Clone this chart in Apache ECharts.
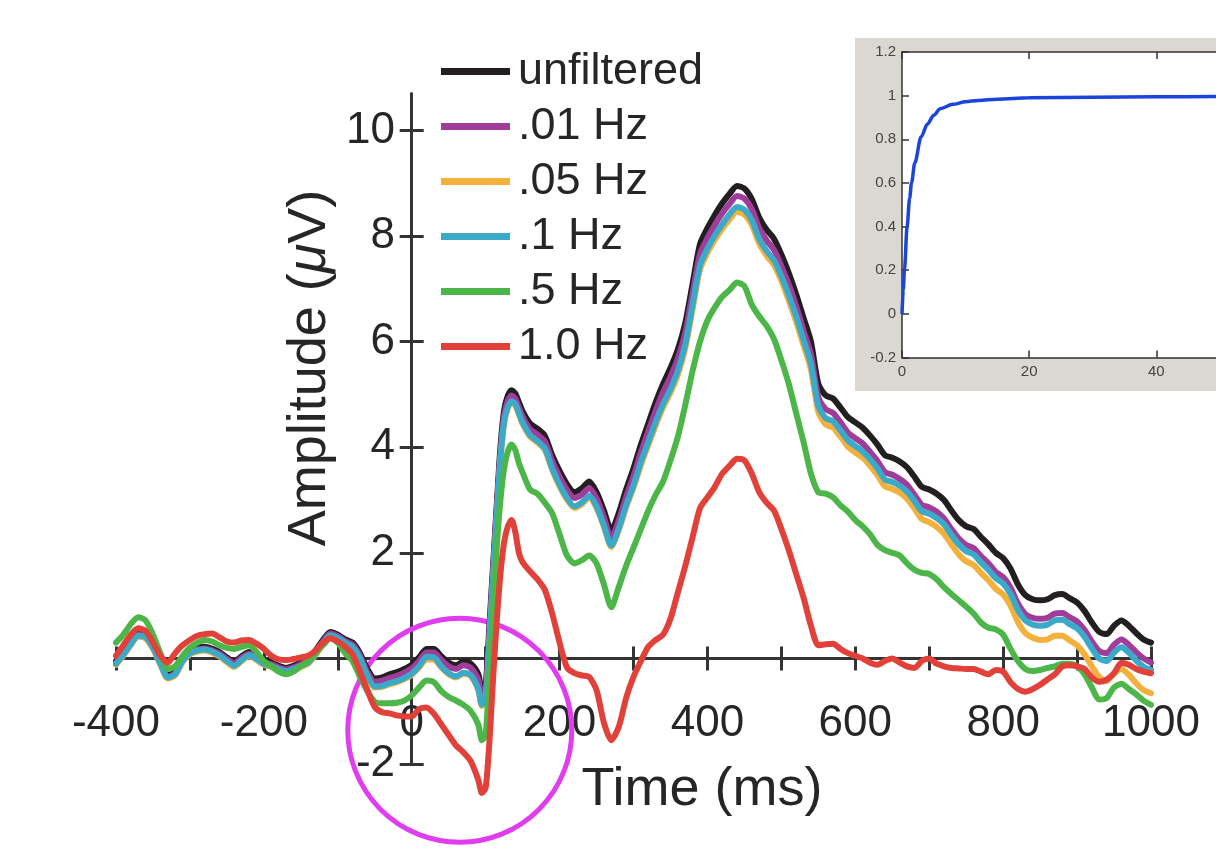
<!DOCTYPE html>
<html>
<head>
<meta charset="utf-8">
<script src="https://cdn.jsdelivr.net/npm/echarts@6/dist/echarts.min.js"></script>
<style>html,body{margin:0;padding:0;background:#fff}#c{width:1216px;height:858px}</style>
</head>
<body>
<div id="c"></div>
<script>
// ---- DATA ----
const times = [
  -400,-390,-380,-370,-360,-350,-340,-330,-320,-310,
  -300,-290,-280,-270,-260,-250,-240,-230,-220,-210,
  -200,-190,-180,-170,-160,-150,-140,-130,-120,-110,
  -100,-90,-80,-70,-60,-50,-40,-30,-20,-10,
  0,10,20,30,40,50,60,70,80,90,
  95,100,105,110,115,120,125,130,135,140,145,150,
  160,170,180,190,200,210,220,230,240,250,
  260,270,280,290,300,310,320,330,340,350,
  360,370,380,390,400,410,420,430,440,450,
  460,470,480,490,500,510,520,530,540,550,
  560,570,580,590,600,610,620,630,640,650,
  660,670,680,690,700,710,720,730,740,750,
  760,770,780,790,800,810,820,830,840,850,
  860,870,880,890,900,910,920,930,940,950,
  960,970,980,990,1000
];
const unfiltered = [
  -0.05,0.12,0.32,0.48,0.45,0.25,-0.05,-0.32,-0.25,0.0,
  0.15,0.2,0.22,0.18,0.12,0.02,-0.06,0.04,0.12,0.05,
  -0.04,-0.08,-0.14,-0.18,-0.14,-0.08,-0.02,0.15,0.35,0.5,
  0.45,0.36,0.3,0.1,-0.2,-0.38,-0.36,-0.3,-0.26,-0.2,
  -0.12,0.02,0.18,0.18,0.04,-0.08,-0.13,-0.06,-0.1,-0.3,
  -0.62,-0.5,0.6,1.75,2.9,4.0,4.7,4.98,5.08,5.02,4.85,4.68,
  4.45,4.35,4.22,3.85,3.55,3.3,3.15,3.22,3.35,3.15,
  2.8,2.42,2.75,3.2,3.6,4.05,4.45,4.85,5.2,5.5,
  5.85,6.35,7.1,7.85,8.15,8.4,8.62,8.8,8.95,8.9,
  8.7,8.35,8.12,7.95,7.65,7.3,6.9,6.45,6.0,5.2,
  4.98,4.92,4.75,4.57,4.47,4.37,4.22,4.05,3.85,3.8,
  3.73,3.62,3.44,3.25,3.2,3.12,3.0,2.8,2.62,2.5,
  2.45,2.3,2.16,2.0,1.9,1.7,1.4,1.2,1.12,1.1,
  1.12,1.2,1.22,1.14,1.06,0.9,0.68,0.5,0.46,0.62,
  0.72,0.62,0.48,0.36,0.3
];
const hz001 = [
  -0.08,0.09,0.29,0.45,0.42,0.22,-0.08,-0.35,-0.28,-0.03,
  0.12,0.17,0.19,0.15,0.09,-0.01,-0.09,0.01,0.09,0.02,
  -0.07,-0.11,-0.17,-0.21,-0.17,-0.11,-0.05,0.12,0.32,0.47,
  0.42,0.33,0.26,0.05,-0.26,-0.44,-0.42,-0.37,-0.33,-0.27,
  -0.19,-0.05,0.11,0.11,-0.03,-0.15,-0.2,-0.13,-0.18,-0.4,
  -0.7,-0.6,0.5,1.65,2.8,3.9,4.6,4.88,4.98,4.92,4.75,4.58,
  4.34,4.24,4.11,3.74,3.44,3.19,3.04,3.1,3.23,3.03,
  2.67,2.28,2.61,3.06,3.45,3.9,4.3,4.69,5.04,5.33,
  5.68,6.17,6.92,7.66,7.96,8.21,8.43,8.61,8.76,8.71,
  8.51,8.15,7.92,7.74,7.43,7.08,6.67,6.21,5.76,4.95,
  4.72,4.65,4.47,4.28,4.17,4.07,3.91,3.74,3.53,3.48,
  3.4,3.29,3.1,2.91,2.86,2.78,2.65,2.45,2.27,2.15,
  2.09,1.94,1.8,1.64,1.54,1.34,1.04,0.84,0.77,0.75,
  0.77,0.85,0.86,0.78,0.7,0.54,0.32,0.14,0.1,0.26,
  0.36,0.26,0.12,0.0,-0.08
];
const hz005 = [
  -0.12,0.05,0.25,0.41,0.38,0.18,-0.12,-0.38,-0.32,-0.07,
  0.08,0.13,0.15,0.11,0.04,-0.07,-0.16,-0.05,0.04,-0.03,
  -0.12,-0.16,-0.22,-0.26,-0.22,-0.16,-0.1,0.07,0.27,0.42,
  0.37,0.28,0.2,-0.02,-0.35,-0.55,-0.54,-0.49,-0.45,-0.39,
  -0.31,-0.17,-0.02,-0.02,-0.17,-0.3,-0.36,-0.29,-0.34,-0.6,
  -0.9,-0.8,0.28,1.48,2.66,3.75,4.45,4.74,4.84,4.79,4.62,4.44,
  4.2,4.09,3.95,3.57,3.26,3.01,2.85,2.92,3.05,2.85,
  2.49,2.11,2.42,2.86,3.23,3.66,4.04,4.41,4.75,5.03,
  5.37,5.87,6.62,7.37,7.68,7.93,8.14,8.32,8.46,8.41,
  8.21,7.86,7.63,7.45,7.15,6.78,6.38,5.93,5.47,4.67,
  4.43,4.37,4.2,4.01,3.9,3.8,3.65,3.47,3.26,3.21,
  3.14,3.02,2.84,2.64,2.58,2.49,2.36,2.16,1.97,1.84,
  1.77,1.62,1.48,1.32,1.21,1.0,0.69,0.48,0.39,0.35,
  0.36,0.43,0.43,0.34,0.25,0.08,-0.15,-0.36,-0.43,-0.28,
  -0.2,-0.31,-0.47,-0.6,-0.66
];
const hz01 = [
  -0.1,0.07,0.27,0.43,0.4,0.2,-0.1,-0.36,-0.3,-0.05,
  0.1,0.15,0.17,0.13,0.06,-0.05,-0.14,-0.03,0.06,-0.01,
  -0.1,-0.14,-0.2,-0.24,-0.2,-0.14,-0.08,0.09,0.29,0.44,
  0.39,0.3,0.22,0.0,-0.33,-0.53,-0.52,-0.47,-0.43,-0.37,
  -0.29,-0.15,0.03,0.02,-0.15,-0.28,-0.34,-0.27,-0.32,-0.58,
  -0.88,-0.78,0.3,1.5,2.68,3.78,4.48,4.77,4.87,4.82,4.65,4.47,
  4.23,4.12,3.98,3.6,3.29,3.04,2.88,2.95,3.08,2.88,
  2.52,2.14,2.46,2.9,3.28,3.72,4.1,4.48,4.82,5.1,
  5.45,5.95,6.7,7.45,7.76,8.01,8.22,8.41,8.55,8.5,
  8.3,7.95,7.72,7.54,7.24,6.88,6.48,6.03,5.58,4.78,
  4.55,4.49,4.32,4.13,4.02,3.92,3.77,3.6,3.39,3.34,
  3.27,3.16,2.98,2.79,2.74,2.66,2.54,2.34,2.16,2.03,
  1.97,1.82,1.68,1.52,1.42,1.22,0.92,0.72,0.64,0.62,
  0.64,0.72,0.73,0.65,0.57,0.41,0.19,0.0,-0.05,0.11,
  0.21,0.11,-0.04,-0.16,-0.22
];
const hz05 = [
  0.3,0.45,0.65,0.78,0.72,0.45,0.1,-0.2,-0.15,0.05,
  0.2,0.3,0.35,0.32,0.25,0.2,0.18,0.22,0.25,0.12,
  -0.05,-0.15,-0.25,-0.3,-0.25,-0.15,-0.05,0.1,0.25,0.38,
  0.3,0.1,-0.05,-0.35,-0.62,-0.82,-0.85,-0.85,-0.84,-0.8,
  -0.7,-0.55,-0.42,-0.45,-0.62,-0.73,-0.8,-0.88,-1.0,-1.25,
  -1.55,-1.45,-0.3,0.9,2.1,3.0,3.6,3.92,4.05,3.95,3.7,3.52,
  3.2,3.12,2.95,2.75,2.35,1.95,1.8,1.86,1.95,1.8,
  1.4,0.97,1.35,1.75,2.1,2.45,2.8,3.1,3.35,3.75,
  4.2,4.8,5.45,6.0,6.4,6.65,6.85,6.98,7.12,7.05,
  6.7,6.48,6.3,6.05,5.65,5.2,4.65,4.1,3.5,3.15,
  3.12,3.05,2.9,2.78,2.62,2.5,2.35,2.15,2.05,2.0,
  1.95,1.8,1.68,1.62,1.6,1.5,1.35,1.22,1.1,0.98,
  0.85,0.68,0.58,0.55,0.45,0.18,-0.05,-0.2,-0.24,-0.22,
  -0.18,-0.15,-0.1,-0.1,-0.15,-0.3,-0.55,-0.78,-0.75,-0.55,
  -0.48,-0.58,-0.68,-0.8,-0.88
];
const hz10 = [
  0.05,0.25,0.45,0.57,0.52,0.3,0.05,-0.08,0.1,0.25,
  0.35,0.43,0.46,0.47,0.4,0.32,0.3,0.34,0.35,0.28,
  0.18,0.05,-0.02,-0.03,-0.01,0.02,0.05,0.15,0.3,0.38,
  0.32,0.22,0.08,-0.25,-0.6,-0.92,-1.02,-1.04,-1.08,-1.1,
  -1.1,-0.96,-0.93,-1.05,-1.25,-1.45,-1.65,-1.78,-1.95,-2.3,
  -2.55,-2.45,-1.6,-0.4,0.7,1.6,2.2,2.5,2.62,2.4,2.0,1.82,
  1.65,1.5,1.3,0.85,0.3,-0.17,-0.28,-0.32,-0.35,-0.6,
  -1.22,-1.55,-1.3,-0.75,-0.35,-0.05,0.22,0.35,0.45,0.75,
  1.25,1.75,2.3,2.85,3.05,3.25,3.5,3.65,3.78,3.75,
  3.5,3.15,2.95,2.8,2.45,2.05,1.6,1.15,0.62,0.25,
  0.27,0.28,0.18,0.1,0.05,0.0,-0.08,-0.12,-0.05,0.0,
  -0.08,-0.15,-0.18,-0.05,0.0,-0.1,-0.15,-0.18,-0.19,-0.2,
  -0.2,-0.25,-0.3,-0.22,-0.25,-0.45,-0.58,-0.63,-0.58,-0.5,
  -0.4,-0.3,-0.15,-0.13,-0.15,-0.2,-0.36,-0.44,-0.4,-0.28,
  -0.08,-0.12,-0.2,-0.25,-0.28
];
const seriesNames = ['unfiltered', '.01 Hz', '.05 Hz', '.1 Hz', '.5 Hz', '1.0 Hz'];
const xTickLabels = [-400, -200, 0, 200, 400, 600, 800, 1000];
const yTickValues = [-2, 0, 2, 4, 6, 8, 10];
const yTickLabels = [-2, 2, 4, 6, 8, 10];
// inset (filter response)
const insetX = [0, 0.2, 0.4, 0.8, 1.2, 1.5, 2, 3, 4, 5, 6, 8, 10, 12, 15, 20, 30, 40, 50];
const insetY = [0, 0.11, 0.21, 0.4, 0.53, 0.6, 0.69, 0.81, 0.87, 0.91, 0.94, 0.96, 0.972, 0.978, 0.984, 0.99, 0.993, 0.995, 0.996];
const insetXTicks = [0, 20, 40];
const insetYTicks = [-0.2, 0, 0.2, 0.4, 0.6, 0.8, 1, 1.2];

// ---- CHART ----
const FONT = '"Liberation Sans", Arial, Helvetica, sans-serif';
const TXT = '#262626';
const AX = '#333333';
const colors = ['#231f20', '#a03c9a', '#f3b13b', '#3aaac8', '#4cb648', '#e2413a'];
const arrays = [unfiltered, hz001, hz005, hz01, hz05, hz10];

const chart = echarts.init(document.getElementById('c'), null, {renderer: 'canvas'});

const mainSeries = seriesNames.map((n, k) => ({
  name: n, type: 'line', xAxisIndex: 0, yAxisIndex: 0,
  data: times.map((t, i) => [t, arrays[k][i]]),
  symbol: 'none', showSymbol: false, smooth: 0.25, clip: false,
  lineStyle: {width: 6, color: colors[k], cap: 'round', join: 'round'},
  itemStyle: {color: colors[k]},
  silent: true
}));

const insetSeries = {
  type: 'line', xAxisIndex: 2, yAxisIndex: 2,
  data: insetX.map((x, i) => [x, insetY[i]]),
  symbol: 'none', showSymbol: false, smooth: 0.3, smoothMonotone: 'x',
  lineStyle: {width: 3.5, color: '#1a44dc'}, silent: true
};

const option = {
  animation: false,
  backgroundColor: '#ffffff',
  grid: [
    {left: 116, right: 65, top: 93.5, bottom: 94, containLabel: false, outerBoundsMode: 'none'},
    {left: 902, top: 52, width: 314, height: 305.5, containLabel: false, outerBoundsMode: 'none',
     show: true, backgroundColor: '#ffffff', borderWidth: 0}
  ],
  legend: {
    data: seriesNames, orient: 'vertical', left: 441, top: 49, padding: 0,
    itemWidth: 69, itemHeight: 7, itemGap: 10, icon: 'rect', selectedMode: false,
    textStyle: {fontSize: 45, fontFamily: FONT, color: TXT, lineHeight: 44, padding: [0, 0, 0, 3]}
  },
  xAxis: [
    {gridIndex: 0, type: 'value', position: 'bottom', min: -400, max: 1000, interval: 100,
     axisLine: {show: true, onZero: true, onZeroAxisIndex: 0, lineStyle: {color: AX, width: 3}},
     axisTick: {show: true, inside: false, length: 12, lineStyle: {color: AX, width: 3}},
     axisLabel: {show: true, customValues: xTickLabels, margin: -62, fontSize: 44, fontFamily: FONT, color: TXT,
                 formatter: (v) => String(v)},
     splitLine: {show: false}},
    {gridIndex: 0, type: 'value', position: 'bottom', min: -400, max: 1000, interval: 100,
     axisLine: {show: false, onZero: true, onZeroAxisIndex: 0},
     axisTick: {show: true, inside: true, length: 12, lineStyle: {color: AX, width: 3}},
     axisLabel: {show: false}, splitLine: {show: false}},
    {gridIndex: 1, type: 'value', position: 'bottom', min: 0, max: 49.4, interval: 20,
     axisLine: {show: true, onZero: false, lineStyle: {color: '#333', width: 1.5}},
     axisTick: {show: true, inside: true, length: 7, customValues: insetXTicks, lineStyle: {color: '#333', width: 1.5}},
     axisLabel: {show: true, customValues: insetXTicks, margin: 7, fontSize: 15, fontFamily: FONT, color: '#444'},
     splitLine: {show: false}},
    {gridIndex: 1, type: 'value', position: 'top', min: 0, max: 49.4, interval: 20,
     axisLine: {show: true, onZero: false, lineStyle: {color: '#333', width: 1.5}},
     axisTick: {show: true, inside: true, length: 7, customValues: insetXTicks, lineStyle: {color: '#333', width: 1.5}},
     axisLabel: {show: false}, splitLine: {show: false}}
  ],
  yAxis: [
    {gridIndex: 0, type: 'value', position: 'left', min: -2, max: 10.7, interval: 2,
     axisLine: {show: true, onZero: true, onZeroAxisIndex: 0, lineStyle: {color: AX, width: 3}},
     axisTick: {show: true, inside: false, length: 12, customValues: yTickValues, lineStyle: {color: AX, width: 3}},
     axisLabel: {show: true, customValues: yTickLabels, margin: -279, fontSize: 44, fontFamily: FONT, color: TXT},
     splitLine: {show: false}},
    {gridIndex: 0, type: 'value', position: 'left', min: -2, max: 10.7, interval: 2,
     axisLine: {show: false, onZero: true, onZeroAxisIndex: 0},
     axisTick: {show: true, inside: true, length: 12, customValues: yTickValues, lineStyle: {color: AX, width: 3}},
     axisLabel: {show: false}, splitLine: {show: false}},
    {gridIndex: 1, type: 'value', position: 'left', min: -0.2, max: 1.2, interval: 0.2,
     axisLine: {show: true, onZero: false, lineStyle: {color: '#333', width: 1.5}},
     axisTick: {show: true, inside: true, length: 7, customValues: insetYTicks, lineStyle: {color: '#333', width: 1.5}},
     axisLabel: {show: true, customValues: insetYTicks, margin: 6, fontSize: 15, fontFamily: FONT, color: '#444'},
     splitLine: {show: false}}
  ],
  graphic: [
    {type: 'rect', id: 'insetBg', z: -2, silent: true,
     shape: {x: 855, y: 38, width: 361, height: 353}, style: {fill: '#dbd7d1'}},
    {type: 'rect', id: 'insetPlot', z: -1, silent: true,
     shape: {x: 902, y: 52, width: 314, height: 305.5}, style: {fill: '#ffffff'}},
    {type: 'text', id: 'xTitle', x: 702, y: 790, silent: true,
     style: {text: 'Time (ms)', font: '54px ' + FONT, fill: TXT,
             align: 'center', verticalAlign: 'middle', textAlign: 'center', textVerticalAlign: 'middle'}},
    {type: 'text', id: 'yTitle', x: 310, y: 368, rotation: Math.PI / 2, silent: true,
     style: {text: 'Amplitude ({m|\u03bc}V)', font: '54px ' + FONT, fill: TXT,
             align: 'center', verticalAlign: 'middle', textAlign: 'center', textVerticalAlign: 'middle',
             rich: {m: {fontStyle: 'italic', fontSize: 54, fontFamily: FONT, fill: TXT, color: TXT}}}}
  ],
  series: mainSeries.concat([insetSeries])
};
chart.setOption(option);

// annotation circle around the pre-response dip, anchored in data coordinates
const cPix = chart.convertToPixel({gridIndex: 0}, [65, -1.36]);
chart.setOption({
  graphic: [
    {type: 'circle', id: 'ring', z: 1, silent: true,
     shape: {cx: cPix[0], cy: cPix[1], r: 112},
     style: {fill: 'none', stroke: '#e03cf0', lineWidth: 5}}
  ]
});
</script>
</body>
</html>
